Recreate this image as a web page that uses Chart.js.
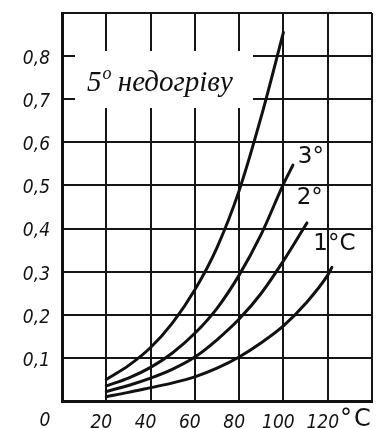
<!DOCTYPE html>
<html>
<head>
<meta charset="utf-8">
<script src="https://cdn.jsdelivr.net/npm/chart.js@4.4.1/dist/chart.umd.min.js"></script>
<style>
  html, body { margin: 0; padding: 0; background: #fff; }
  #wrap { width: 385px; height: 428px; }
</style>
</head>
<body>
<div id="wrap"><canvas id="myChart" width="385" height="428"></canvas></div>
<script>
// temperature (°C) / value pairs
var x5 = [20, 30, 40, 50, 60, 70, 80, 90, 100];
var y5 = [0.05, 0.082, 0.124, 0.182, 0.258, 0.356, 0.488, 0.66, 0.855];
var x3 = [20, 30, 40, 50, 60, 70, 80, 90, 100, 104.3];
var y3 = [0.035, 0.053, 0.078, 0.112, 0.157, 0.215, 0.292, 0.387, 0.503, 0.547];
var x2 = [20, 30, 40, 50, 60, 70, 80, 90, 100, 110.6];
var y2 = [0.022, 0.036, 0.053, 0.074, 0.102, 0.142, 0.19, 0.25, 0.325, 0.413];
var x1 = [20, 30, 40, 50, 60, 70, 80, 90, 100, 110, 120, 121.9];
var y1 = [0.01, 0.02, 0.031, 0.042, 0.056, 0.076, 0.102, 0.135, 0.174, 0.226, 0.292, 0.31];

var curveLabels = ['5°', '3°', '2°', '1°C'];
var xMin = 0, xMax = 140, xStep = 20;
var yMin = 0, yMax = 0.9, yStep = 0.1;
var xUnit = '°C';
var originLabel = '0';
var titleMain = '5';
var titleSup = 'o';
var titleRest = ' недогріву';

function pts(xs, ys) {
    return xs.map(function (x, i) { return {x: x, y: ys[i]}; });
}

function curve(label, xs, ys) {
    return {
        label: label,
        data: pts(xs, ys),
        borderColor: '#111',
        borderWidth: 3,
        borderCapStyle: 'round',
        pointRadius: 0,
        cubicInterpolationMode: 'monotone',
        fill: false
    };
}

var tickFont = {family: "'DejaVu Sans Condensed', 'DejaVu Sans', sans-serif", size: 19, style: 'italic'};

// white patch with the caption, plus curve labels and the unit
var notes = {
    id: 'notes',
    beforeDatasetsDraw: function (chart) {
        var ctx = chart.ctx;
        ctx.save();
        ctx.fillStyle = '#fff';
        ctx.fillRect(75, 51, 178, 57);
        ctx.fillStyle = '#111';
        ctx.textBaseline = 'alphabetic';
        var x = 87, y = 91;
        ctx.font = "italic 29px 'Liberation Serif', serif";
        ctx.fillText(titleMain, x, y);
        x += ctx.measureText(titleMain).width;
        ctx.font = "italic 18px 'Liberation Serif', serif";
        ctx.fillText(titleSup, x + 1, y - 12);
        x += ctx.measureText(titleSup).width;
        ctx.font = "italic 29px 'Liberation Serif', serif";
        ctx.fillText(titleRest, x, y);
        ctx.restore();
    },
    afterDraw: function (chart) {
        var ctx = chart.ctx;
        var xs = chart.scales.x, ys = chart.scales.y;
        ctx.save();
        ctx.fillStyle = '#111';
        ctx.font = "23px 'DejaVu Sans', sans-serif";
        ctx.textBaseline = 'middle';
        ctx.textAlign = 'left';
        // labels next to the upper ends of the 3, 2 and 1 degree curves
        ctx.fillText(curveLabels[1], xs.getPixelForValue(106.5), ys.getPixelForValue(0.565));
        ctx.fillText(curveLabels[2], xs.getPixelForValue(106), ys.getPixelForValue(0.47));
        ctx.fillText(curveLabels[3], xs.getPixelForValue(113.5), ys.getPixelForValue(0.365));
        ctx.font = "italic 19px 'DejaVu Sans Condensed', 'DejaVu Sans', sans-serif";
        ctx.textAlign = 'center';
        ctx.fillText(originLabel, 45, 421);
        ctx.font = "24px 'DejaVu Sans', sans-serif";
        ctx.textAlign = 'left';
        ctx.letterSpacing = '2px';
        ctx.fillText(xUnit, 340, 420);
        ctx.restore();
    }
};

new Chart('myChart', {
    type: 'line',
    data: {
        datasets: [
            curve(curveLabels[0], x5, y5),
            curve(curveLabels[1], x3, y3),
            curve(curveLabels[2], x2, y2),
            curve(curveLabels[3], x1, y1)
        ]
    },
    options: {
        responsive: false,
        animation: false,
        layout: {padding: {top: 13, right: 13, left: 0, bottom: 0}},
        plugins: {
            legend: {display: false},
            tooltip: {enabled: false},
            title: {display: false}
        },
        scales: {
            x: {
                type: 'linear',
                min: xMin,
                max: xMax,
                afterFit: function (axis) {
                    axis.height = 27;
                    axis.paddingLeft = 0;
                    axis.paddingRight = 0;
                },
                grid: {display: true, drawOnChartArea: true, color: '#151515', lineWidth: 2, drawTicks: false},
                border: {display: true, color: '#111', width: 3},
                ticks: {
                    stepSize: xStep,
                    color: '#111',
                    font: tickFont,
                    padding: 11,
                    labelOffset: -5,
                    maxRotation: 0,
                    autoSkip: false,
                    callback: function (v, i, all) {
                        return (i === 0 || i === all.length - 1) ? '' : String(v);
                    }
                }
            },
            y: {
                type: 'linear',
                min: yMin,
                max: yMax,
                afterFit: function (axis) {
                    axis.width = 62;
                    axis.paddingTop = 0;
                    axis.paddingBottom = 0;
                },
                grid: {display: true, drawOnChartArea: true, color: '#151515', lineWidth: 2, drawTicks: false},
                border: {display: true, color: '#111', width: 3},
                ticks: {
                    stepSize: yStep,
                    color: '#111',
                    font: tickFont,
                    padding: 12,
                    labelOffset: 3,
                    autoSkip: false,
                    callback: function (v, i, all) {
                        if (i === 0 || i === all.length - 1) return '';
                        return v.toFixed(1).replace('.', ',');
                    }
                }
            }
        }
    },
    plugins: [notes]
});
</script>
</body>
</html>
